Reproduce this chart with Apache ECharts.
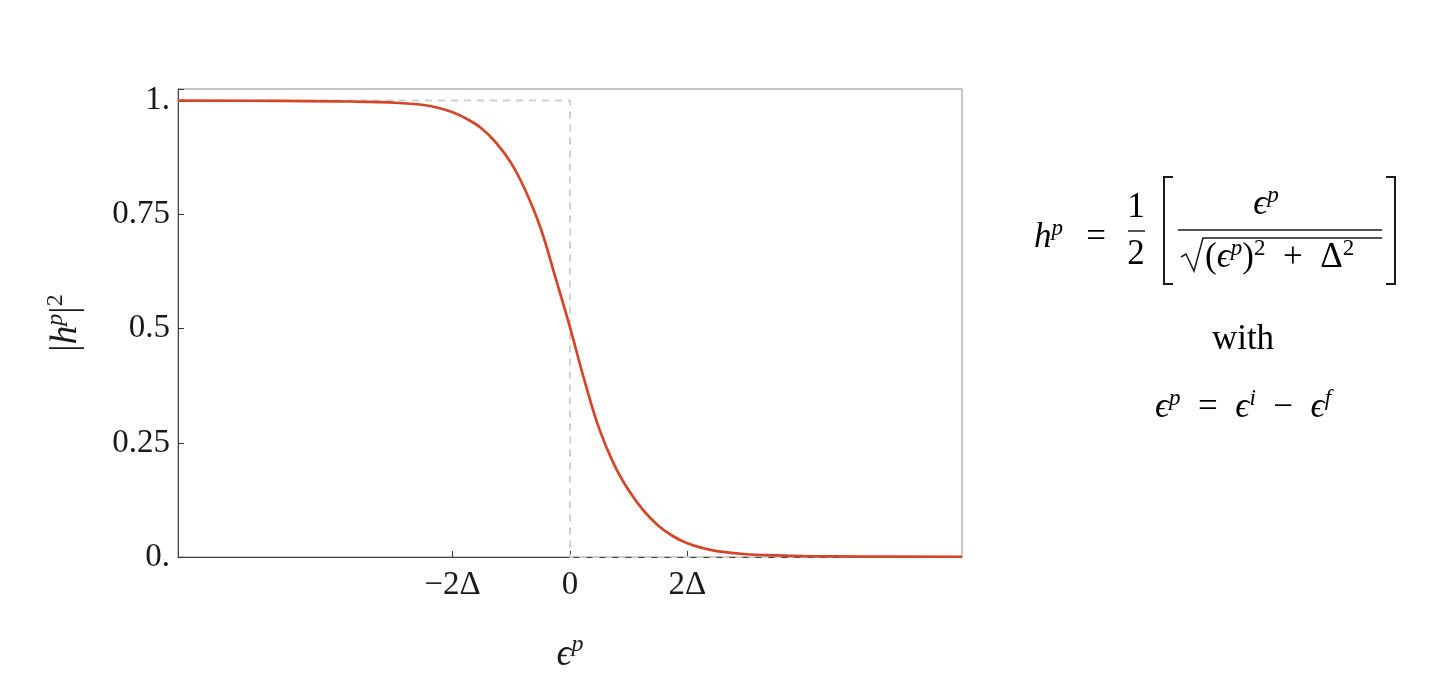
<!DOCTYPE html>
<html>
<head>
<meta charset="utf-8">
<script src="https://cdn.jsdelivr.net/npm/echarts@6/dist/echarts.min.js"></script>
<style>
html,body{margin:0;padding:0;background:#fff;}
#chart{width:1446px;height:682px;}
</style>
</head>
<body>
<div id="chart"></div>
<script>
// ε^p in units of Δ
const epsilon = [-6.68, -5.0, -4.0, -3.5, -3.0, -2.5, -2.25, -2.0, -1.75, -1.5, -1.25, -1.0, -0.75, -0.5, -0.25, 0, 0.25, 0.5, 0.75, 1.0, 1.25, 1.5, 1.75, 2.0, 2.25, 2.5, 3.0, 3.5, 4.0, 5.0, 6.68];
// |h^p|^2
const hSquared = [0.9995, 0.999, 0.998, 0.997, 0.995, 0.990, 0.984, 0.974, 0.959, 0.938, 0.906, 0.862, 0.80, 0.72, 0.613, 0.503, 0.385, 0.28, 0.203, 0.146, 0.102, 0.069, 0.046, 0.030, 0.020, 0.013, 0.006, 0.0035, 0.002, 0.001, 0.0005];
// step reference (dashed)
const stepX = [-6.68, 0, 0, 6.68];
const stepY = [1, 1, 0, 0];
// ticks
const xTickValues = [-2, 0, 2];
const xTickLabels = ['\u22122\u0394', '0', '2\u0394'];
const yTickValues = [0, 0.25, 0.5, 0.75, 1];
const yTickLabels = ['0.', '0.25', '0.5', '0.75', '1.'];

const SERIF = '"Liberation Serif", "DejaVu Serif", serif';
const INK = '#1a1a1a';
const EPS = '\u03F5';

const curveData = epsilon.map((x, i) => [x, hSquared[i]]);
const stepData = stepX.map((x, i) => [x, stepY[i]]);

function mkRich(fs) {
  const sfs = Math.round(fs * 0.66);
  return {
    n: {fontFamily: SERIF, fontSize: fs, color: INK, lineHeight: Math.round(fs * 1.2)},
    i: {fontFamily: SERIF, fontSize: fs, fontStyle: 'italic', color: INK, lineHeight: Math.round(fs * 1.2)},
    s: {fontFamily: SERIF, fontSize: sfs, fontStyle: 'italic', color: INK, verticalAlign: 'top', lineHeight: sfs},
    s2: {fontFamily: SERIF, fontSize: sfs, color: INK, verticalAlign: 'top', lineHeight: sfs}
  };
}
const rich = mkRich(35);
const richAxis = mkRich(37);

const chart = echarts.init(document.getElementById('chart'), null, {renderer: 'canvas'});
chart.setOption({
  backgroundColor: '#fff',
  animation: false,
  grid: {left: 178, top: 89, width: 784, height: 468, show: true, borderColor: '#8a8a8a', borderWidth: 1, containLabel: false},
  xAxis: {
    type: 'value', min: -6.68, max: 6.68,
    name: '{i|' + EPS + '}{s|p}',
    nameLocation: 'middle', nameGap: 76,
    nameTextStyle: {rich: richAxis},
    axisLine: {show: true, onZero: false, lineStyle: {color: '#444', width: 1}},
    axisTick: {show: true, inside: true, length: 6, lineStyle: {color: '#333'}, customValues: xTickValues},
    axisLabel: {
      customValues: xTickValues,
      fontFamily: SERIF, fontSize: 33, color: INK, margin: 12,
      formatter: v => xTickLabels[xTickValues.indexOf(v)] ?? ''
    },
    splitLine: {show: false}
  },
  yAxis: {
    type: 'value', min: 0, max: 1.025, interval: 0.25,
    name: '{n||}{i|h}{s|p}{n||}{s2|2}',
    nameLocation: 'middle', nameGap: 90, nameRotate: 90,
    nameTextStyle: {rich: richAxis},
    axisLine: {show: true, onZero: false, lineStyle: {color: '#444', width: 1}},
    axisTick: {show: true, inside: true, length: 6, lineStyle: {color: '#333'}},
    axisLabel: {
      fontFamily: SERIF, fontSize: 33, color: INK, margin: 8,
      formatter: v => {
        const k = yTickValues.findIndex(t => Math.abs(t - v) < 1e-9);
        return k >= 0 ? yTickLabels[k] : '';
      }
    },
    splitLine: {show: false}
  },
  series: [
    {
      type: 'line', data: stepData, showSymbol: false, silent: true, z: 1,
      lineStyle: {color: '#d0d0d0', width: 2, type: [7, 6]}
    },
    {
      type: 'line', data: curveData, showSymbol: false, smooth: 0.4, z: 3,
      lineStyle: {color: '#d6452a', width: 2.7}
    }
  ],
  graphic: [
    {type: 'text', x: 1034, y: 238, style: {text: '{i|h}{s|p}', rich: rich, align: 'left', verticalAlign: 'middle'}},
    {type: 'text', x: 1096, y: 238, style: {text: '{n|=}', rich: rich, align: 'center', verticalAlign: 'middle'}},
    {type: 'text', x: 1136, y: 208, style: {text: '{n|1}', rich: rich, align: 'center', verticalAlign: 'middle'}},
    {type: 'line', shape: {x1: 1128, y1: 231, x2: 1145, y2: 231}, style: {stroke: INK, lineWidth: 1.5}},
    {type: 'text', x: 1136, y: 255, style: {text: '{n|2}', rich: rich, align: 'center', verticalAlign: 'middle'}},
    {type: 'polyline', shape: {points: [[1173, 177], [1164, 177], [1164, 284], [1173, 284]]}, style: {stroke: INK, lineWidth: 2, fill: null}},
    {type: 'polyline', shape: {points: [[1386, 177], [1395, 177], [1395, 284], [1386, 284]]}, style: {stroke: INK, lineWidth: 2, fill: null}},
    {type: 'text', x: 1266, y: 205, style: {text: '{i|' + EPS + '}{s|p}', rich: rich, align: 'center', verticalAlign: 'middle'}},
    {type: 'line', shape: {x1: 1178, y1: 230, x2: 1382, y2: 230}, style: {stroke: INK, lineWidth: 1.5}},
    {type: 'polyline', shape: {points: [[1181, 257], [1186, 254], [1194, 271], [1203, 238], [1382, 238]]}, style: {stroke: INK, lineWidth: 1.5, fill: null}},
    {type: 'text', x: 1205, y: 258, style: {text: '{n|(}{i|' + EPS + '}{s|p}{n|)}{s2|2}{n|\u2002+\u2002\u0394}{s2|2}', rich: rich, align: 'left', verticalAlign: 'middle'}},
    {type: 'text', x: 1243, y: 340, style: {text: '{n|with}', rich: rich, align: 'center', verticalAlign: 'middle'}},
    {type: 'text', x: 1243, y: 408, style: {text: '{i|' + EPS + '}{s|p}{n|\u2002=\u2002}{i|' + EPS + '}{s|i}{n|\u2002\u2212\u2002}{i|' + EPS + '}{s|f}', rich: rich, align: 'center', verticalAlign: 'middle'}}
  ]
});
</script>
</body>
</html>
